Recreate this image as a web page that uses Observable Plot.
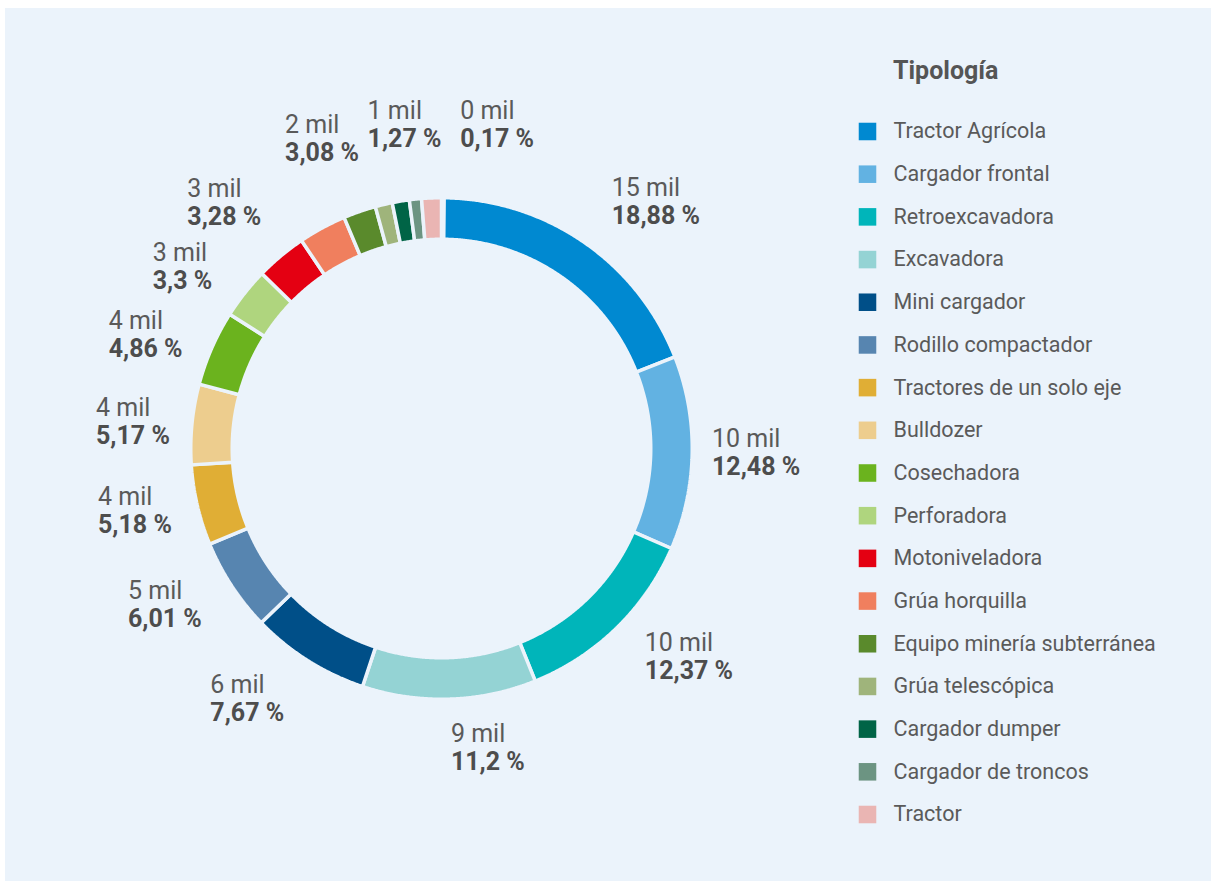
<!DOCTYPE html>
<html>
<head>
<meta charset="utf-8">
<script src="https://cdn.jsdelivr.net/npm/d3@7"></script>
<script src="https://cdn.jsdelivr.net/npm/@observablehq/plot@0.6"></script>
<style>
  html, body { margin: 0; padding: 0; background: #ffffff; width: 1211px; height: 881px; overflow: hidden; font-family: Roboto, sans-serif; }
  #panel { position: absolute; left: 5px; top: 8px; width: 1206px; height: 873px; background: #EBF3FB; }
  #donut { position: absolute; left: 0; top: 0; }
  #leyenda { position: absolute; left: 840px; top: 0; }
  #titulo { position: absolute; left: 888px; top: 51px; font: bold 25px Roboto, sans-serif; line-height: 24px; color: #555555; }
</style>
</head>
<body>
<div id="panel">
  <div id="donut"></div>
  <div id="titulo">Tipología</div>
  <div id="leyenda"></div>
</div>
<script>
// ---------------- DATA ----------------
const categorias = [
  "Tractor Agrícola", "Cargador frontal", "Retroexcavadora", "Excavadora",
  "Mini cargador", "Rodillo compactador", "Tractores de un solo eje", "Bulldozer",
  "Cosechadora", "Perforadora", "Motoniveladora", "Grúa horquilla",
  "Equipo minería subterránea", "Grúa telescópica", "Cargador dumper",
  "Cargador de troncos", "Tractor"
];
const colores = [
  "#0089D1", "#62B2E2", "#00B5BA", "#94D3D4",
  "#004F88", "#5785B0", "#E0AE35", "#EDCD8E",
  "#6BB31E", "#AFD57E", "#E40012", "#F07F5E",
  "#5A8A2C", "#9FB47B", "#006446",
  "#6C9482", "#EAB5B3"
];
// share of the total (%)
const porcentajes = [18.88, 12.48, 12.37, 11.2, 7.67, 6.01, 5.18, 5.17, 4.86, 3.3, 3.28, 3.08, 2.1, 1.1, 1.1, 0.78, 1.27];
// value in thousands ("mil")
const miles = [15, 10, 10, 9, 6, 5, 4, 4, 4, 3, 3, 2, 2, 1, 1, 1, 1];
// whether the slice carries a visible label in the chart
const conEtiqueta = [true, true, true, true, true, true, true, true, true, true, true, true, false, false, false, false, true];
// tiny unnamed slice (not in legend), drawn first
const restoNombre = "Otros";
const restoColor = "#C9D6E2";
const restoPorcentaje = 0.17;
const restoMiles = 0;

// ---------------- LAYOUT ----------------
const BG = "#EBF3FB";
const W = 840, H = 873;
const CX = 436, CY = 440;
const R_OUT = 250.75, R_IN = 209.25;
const FONT = "Roboto";
const FS = 25;

const nombres = [restoNombre, ...categorias];
const valores = [restoPorcentaje, ...porcentajes];
const milesTodos = [restoMiles, ...miles];
const etiquetasOn = [true, ...conEtiqueta];
const total = d3.sum(valores);

let acc = 0;
const slices = nombres.map((n, i) => {
  const a0 = acc / total * 2 * Math.PI;
  acc += valores[i];
  const a1 = acc / total * 2 * Math.PI;
  return {nombre: n, valor: valores[i], miles: milesTodos[i], etiqueta: etiquetasOn[i], a0, a1, mid: (a0 + a1) / 2};
});

// polygon points for each slice
const puntos = [];
for (const s of slices) {
  const n = Math.max(2, Math.ceil((s.a1 - s.a0) / 0.005) + 1);
  for (let k = 0; k < n; k++) {
    const a = s.a0 + (s.a1 - s.a0) * k / (n - 1);
    puntos.push({nombre: s.nombre, x: CX + R_OUT * Math.sin(a), y: CY - R_OUT * Math.cos(a)});
  }
  for (let k = n - 1; k >= 0; k--) {
    const a = s.a0 + (s.a1 - s.a0) * k / (n - 1);
    puntos.push({nombre: s.nombre, x: CX + R_IN * Math.sin(a), y: CY - R_IN * Math.cos(a)});
  }
}

// ---- label layout along a guide curve around the ring ----
const ctx = document.createElement("canvas").getContext("2d");
function medir(txt, bold) { ctx.font = (bold ? "bold " : "") + FS + "px " + FONT; return ctx.measureText(txt).width; }
const fmt = v => String(v).replace(".", ",");
const rCurva = (p, der) => {
  const c = Math.cos(p);
  return 270 + 30 * Math.abs(c) + 24 * Math.pow(Math.max(0, c), der ? 8 : 4);
};
const yCurva = (p, der) => CY - rCurva(p, der) * Math.cos(p);
const xCurva = (p, der) => CX + rCurva(p, der) * Math.sin(p);
function resolver(yObj, der) {
  // angle on the guide curve (same side) whose y equals yObj
  let lo = der ? 0 : Math.PI, hi = der ? Math.PI : 2 * Math.PI;
  const top = der ? lo : hi, bottom = der ? hi : lo;
  if (yObj <= yCurva(top, der)) return top;
  if (yObj >= yCurva(bottom, der)) return bottom;
  for (let k = 0; k < 60; k++) {
    const m = (lo + hi) / 2;
    const ym = yCurva(m, der);
    if (der ? ym < yObj : ym > yObj) lo = m; else hi = m;
  }
  return (lo + hi) / 2;
}
const etiquetas = slices.filter(s => s.etiqueta).map(s => {
  const l1 = `${s.miles} mil`;
  const l2 = `${fmt(s.valor)} %`;
  const w = Math.max(medir(l1, false), medir(l2, true));
  return {l1, l2, w, derecha: Math.sin(s.mid) >= 0, phi: s.mid};
});
function fijar(e) {
  e.y = yCurva(e.phi, e.derecha);
  const ax = xCurva(e.phi, e.derecha);
  e.x = e.derecha ? ax : ax - e.w;
}
etiquetas.forEach(fijar);
const SEP = 64, PAD = 16;
const choca = (a, b, pad) => Math.abs(a.y - b.y) < SEP && a.x < b.x + b.w + pad && a.x + a.w + pad > b.x;
function colocar(lista, dir) {
  const puestos = [];
  for (const e of lista) {
    for (let it = 0; it < 40; it++) {
      const p = puestos.find(q => choca(e, q, PAD));
      if (!p) break;
      const nuevo = resolver(p.y + dir * SEP, e.derecha);
      if (Math.abs(nuevo - e.phi) < 1e-6) break;
      e.phi = nuevo; fijar(e);
    }
    puestos.push(e);
  }
}
const derecha = etiquetas.filter(e => e.derecha).sort((a, b) => a.y - b.y);
const izquierda = etiquetas.filter(e => !e.derecha).sort((a, b) => b.y - a.y);
colocar(derecha, 1);
colocar(izquierda, -1);
// keep right-hand labels clear of left-hand ones near the top
for (const e of derecha) {
  let guard = 0;
  while (izquierda.some(q => choca(e, q, 18)) && guard++ < 200) { e.phi += 0.2 * Math.PI / 180; fijar(e); }
}

const donut = Plot.plot({
  width: W, height: H,
  margin: 0,
  style: {background: "transparent", fontFamily: FONT},
  x: {domain: [0, W], range: [0, W], axis: null},
  y: {domain: [0, H], range: [0, H], axis: null},
  color: {domain: nombres, range: [restoColor, ...colores]},
  marks: [
    Plot.line(puntos, {x: "x", y: "y", z: "nombre", fill: "nombre", stroke: BG, strokeWidth: 3.5,
      strokeLinejoin: "miter", curve: "linear-closed"}),
    Plot.text(etiquetas, {x: "x", y: d => d.y - 14, text: "l1", textAnchor: "start",
      fontSize: FS, fill: "#5a5a5a", fontFamily: FONT}),
    Plot.text(etiquetas, {x: "x", y: d => d.y + 14, text: "l2", textAnchor: "start",
      fontSize: FS, fontWeight: "bold", fill: "#4d4d4d", fontFamily: FONT})
  ]
});
document.getElementById("donut").appendChild(donut);

const leyenda = Plot.plot({
  width: 366, height: H,
  margin: 0,
  style: {background: "transparent", fontFamily: FONT},
  y: {type: "point", domain: categorias, range: [123, 806], padding: 0, round: false, axis: null},
  color: {domain: categorias, range: colores},
  marks: [
    Plot.dot(categorias, {y: d => d, frameAnchor: "left", dx: 22, symbol: "square", r: 9.9, fill: d => d}),
    Plot.text(categorias, {y: d => d, frameAnchor: "left", dx: 48, text: d => d, textAnchor: "start",
      fontSize: 21.5, fill: "#5a5a5a", fontFamily: FONT})
  ]
});
document.getElementById("leyenda").appendChild(leyenda);
</script>
</body>
</html>
